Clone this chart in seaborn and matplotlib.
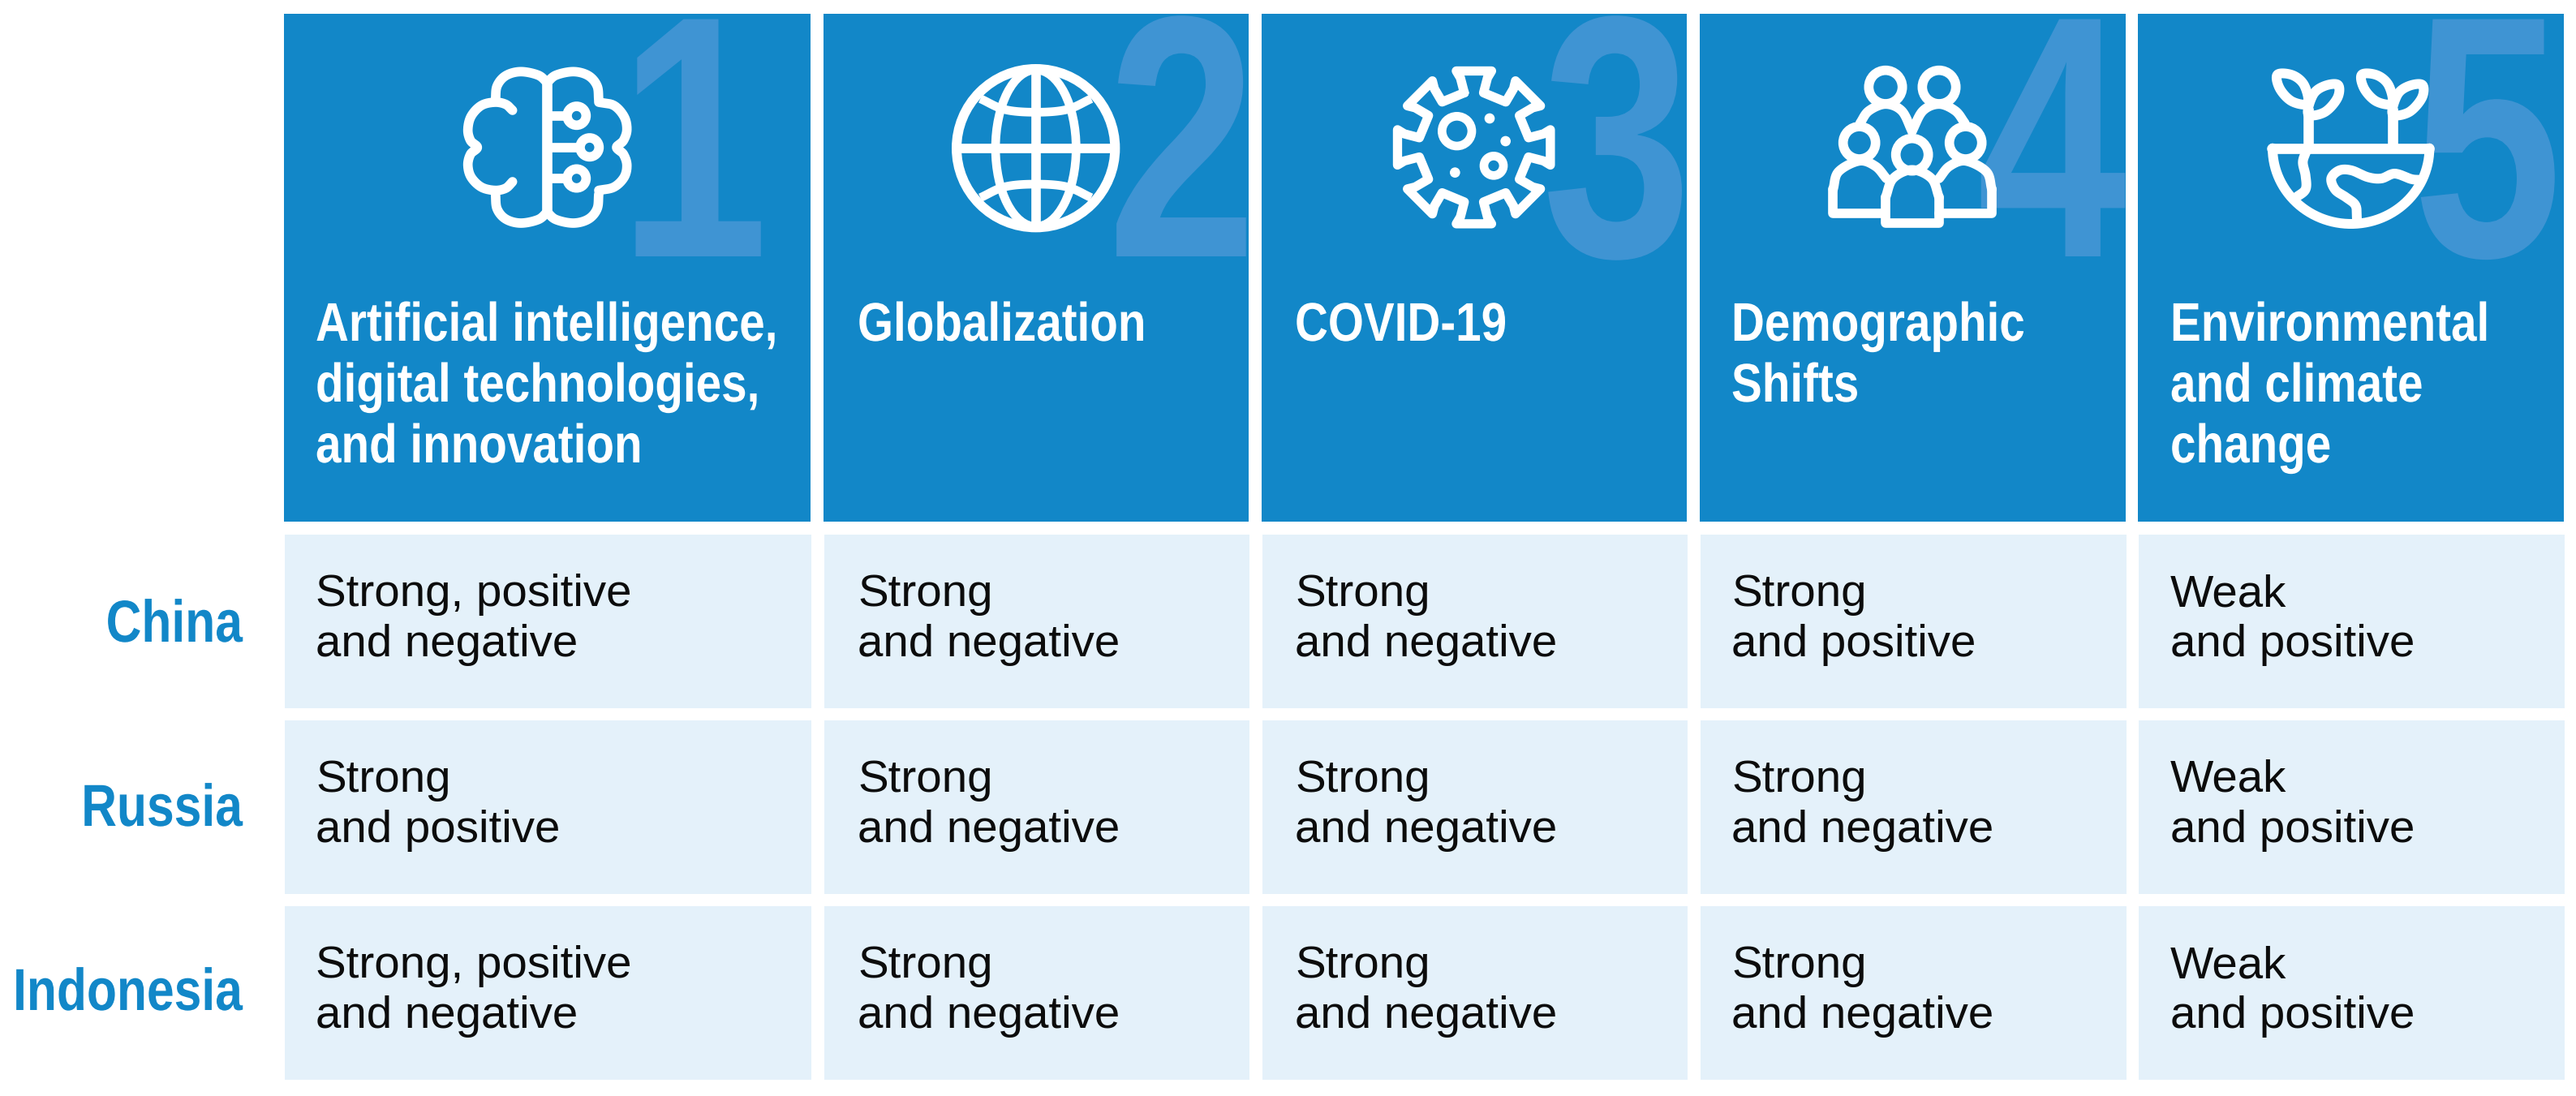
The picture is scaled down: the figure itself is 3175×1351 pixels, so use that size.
import numpy as np
import pandas as pd
import seaborn as sns
import matplotlib
matplotlib.use("Agg")
import matplotlib.pyplot as plt
from matplotlib.colors import ListedColormap
from matplotlib.patches import Circle, Ellipse
from matplotlib.patheffects import AbstractPathEffect
from matplotlib.transforms import Affine2D, Bbox

# ---------- data ----------
countries = ["China", "Russia", "Indonesia"]
drivers = [
    "Artificial intelligence,\ndigital technologies,\nand innovation",
    "Globalization",
    "COVID-19",
    "Demographic\nShifts",
    "Environmental\nand climate\nchange",
]
numbers = ["1", "2", "3", "4", "5"]
effect_ai = ["Strong, positive\nand negative", "Strong\nand positive", "Strong, positive\nand negative"]
effect_glob = ["Strong\nand negative", "Strong\nand negative", "Strong\nand negative"]
effect_covid = ["Strong\nand negative", "Strong\nand negative", "Strong\nand negative"]
effect_demo = ["Strong\nand positive", "Strong\nand negative", "Strong\nand negative"]
effect_env = ["Weak\nand positive", "Weak\nand positive", "Weak\nand positive"]
effects = [effect_ai, effect_glob, effect_covid, effect_demo, effect_env]

# ---------- layout (pixels) ----------
W, H = 3175, 1351
DPI = 100
col_l = [350, 1015, 1555, 2095, 2635]
col_r = [999, 1539, 2079, 2620, 3160]
head_t, head_b = 17, 643
body_t, body_b = 659, 1330
gap = 15
text_x = [389, 1057, 1596, 2134, 2675]
head_base = 420
head_step = 75
body_base = [747, 976, 1205]
body_step = 62
row_base = [791, 1018, 1245]
row_right = 299
num_right = [947, 1549, 2085, 2621, 3158]
num_base = 316
icon_org = [(560, 70), (1165, 70), (1705, 70), (2240, 70), (2785, 70)]
SQ_HEAD = 0.845
SQ_ROW = 0.83
SQ_NUM = 0.78

BLUE = "#1287C8"
LIGHT = "#E4F1FA"
NUM = "#3F94D3"
LABEL = "#1287C8"
INK = "#0C0C0C"

sns.set_theme(style="white")
plt.rcParams["font.family"] = ["Liberation Sans", "DejaVu Sans"]

fig = plt.figure(figsize=(W / DPI, H / DPI), dpi=DPI, facecolor="white")


def frac_axes(l, t, r, b):
    return fig.add_axes([l / W, 1 - b / H, (r - l) / W, (b - t) / H])


# ---------- table cells through seaborn ----------
for i in range(len(drivers)):
    ax = frac_axes(col_l[i], head_t, col_r[i], head_b)
    sns.heatmap(pd.DataFrame([[1]], index=[numbers[i]], columns=[drivers[i]]), ax=ax, cbar=False,
                cmap=ListedColormap([BLUE]), vmin=0, vmax=1, xticklabels=False, yticklabels=False)
    ax.set_xlabel(""); ax.set_ylabel("")

    df = pd.DataFrame({drivers[i]: effects[i]}, index=countries)
    ax = frac_axes(col_l[i] - gap / 2, body_t - gap / 2, col_r[i] + gap / 2, body_b + gap / 2)
    sns.heatmap(df.notna().astype(int), ax=ax, cbar=False, cmap=ListedColormap([LIGHT]), vmin=0, vmax=1,
                linewidths=gap * 72 / DPI, linecolor="white", xticklabels=False, yticklabels=False)
    ax.set_xlabel(""); ax.set_ylabel("")

# ---------- overlay in pixel coordinates ----------
ov = fig.add_axes([0, 0, 1, 1], zorder=5)
ov.set_xlim(0, W); ov.set_ylim(H, 0); ov.axis("off"); ov.patch.set_alpha(0)

px = 72 / DPI


class Squeeze(AbstractPathEffect):
    """Draw a text narrower about its anchor, as a condensed face would look."""

    def __init__(self, anchor_x, sx):
        super().__init__()
        self.anchor_x, self.sx = anchor_x, sx

    def draw_path(self, renderer, gc, tpath, affine, rgbFace=None):
        tr = affine + Affine2D().translate(-self.anchor_x, 0).scale(self.sx, 1).translate(self.anchor_x, 0)
        renderer.draw_path(gc, tpath, tr, rgbFace)


def condensed(t, anchor, sx):
    t.set_path_effects([Squeeze(anchor, sx)])
    orig = t.get_window_extent

    def extent(renderer=None, dpi=None):
        b = orig(renderer, dpi)
        return Bbox.from_extents(anchor + (b.x0 - anchor) * sx, b.y0, anchor + (b.x1 - anchor) * sx, b.y1)

    t.get_window_extent = extent
    return t


def spline(pts, closed=False, n=14):
    p = np.asarray(pts, float)
    if closed:
        q = np.vstack([p[-1], p, p[0], p[1]])
    else:
        q = np.vstack([2 * p[0] - p[1], p, 2 * p[-1] - p[-2]])
    out = []
    for k in range(1, len(q) - 2):
        t = np.linspace(0, 1, n, endpoint=False)[:, None]
        a, b, c, d = q[k - 1], q[k], q[k + 1], q[k + 2]
        out.append(0.5 * (2 * b + (c - a) * t + (2 * a - 5 * b + 4 * c - d) * t ** 2 + (3 * b - a - 3 * c + d) * t ** 3))
    out.append(q[-2][None])
    return np.vstack(out)


class Icon:
    def __init__(self, org):
        self.org = np.array(org, float)

    def xy(self, pts):
        return self.org + np.asarray(pts, float) / 3

    def line(self, pts, w=35, curve=False, closed=False, cap="round"):
        p = spline(pts, closed) if curve else np.asarray(pts, float)
        p = self.xy(p)
        if closed and not curve:
            p = np.vstack([p, p[0]])
        ov.plot(p[:, 0], p[:, 1], color="white", lw=w / 3 * px, solid_capstyle=cap,
                solid_joinstyle="round", zorder=6)

    def ring(self, c, r, w=35):
        x, y = self.xy(c)
        ov.add_patch(Circle((x, y), r / 3, fc="none", ec="white", lw=w / 3 * px, zorder=6))

    def dot(self, c, r):
        x, y = self.xy(c)
        ov.add_patch(Circle((x, y), r / 3, fc="white", ec="none", zorder=6))


def brain(ic):
    ic.line([(343, 90), (343, 590)], w=38, cap="butt")
    ic.line([(343, 95), (310, 68), (245, 55), (190, 70), (158, 108), (152, 160)], curve=True)
    ic.line([(343, 95), (376, 68), (441, 55), (496, 70), (528, 108), (534, 160)], curve=True)
    ic.line([(343, 575), (310, 602), (245, 615), (190, 600), (158, 562), (152, 508)], curve=True)
    ic.line([(343, 575), (376, 602), (441, 615), (496, 600), (528, 562), (534, 508)], curve=True)
    ic.line([(215, 198), (190, 176), (150, 168), (100, 180), (62, 220), (50, 270), (60, 310), (85, 335),
             (60, 360), (50, 400), (62, 445), (100, 482), (150, 494), (190, 486), (215, 462)], curve=True)
    ic.line([(534, 168), (590, 180), (628, 222), (638, 270), (625, 310), (600, 335),
             (625, 360), (638, 400), (628, 445), (590, 482), (534, 494)], curve=True)
    for c, end in [((452, 218), 420), ((500, 335), 465), ((452, 450), 420)]:
        ic.ring(c, 35)
        ic.line([(343, c[1]), (end, c[1])], cap="butt")


def globe(ic):
    ic.ring((335, 338), 293, 36)
    ic.line([(45, 338), (625, 338)], cap="butt")
    ic.line([(335, 50), (335, 625)], cap="butt")
    x, y = ic.xy((335, 338))
    ov.add_patch(Ellipse((x, y), 2 * 149 / 3, 2 * 290 / 3, fc="none", ec="white", lw=32 / 3 * px, zorder=6))
    ic.line([(130, 155), (220, 195), (335, 205), (450, 195), (540, 155)], w=32, curve=True, cap="butt")
    ic.line([(130, 521), (220, 481), (335, 471), (450, 481), (540, 521)], w=32, curve=True, cap="butt")


def virus(ic):
    pts = []
    for k in range(8):
        a = np.deg2rad(45 * k)
        for da, r in [(-10, 205), (-11, 262), (-13, 290), (13, 290), (11, 262), (10, 205)]:
            b = a + np.deg2rad(da)
            pts.append((335 + r * np.sin(b), 335 - r * np.cos(b)))
    ic.line(pts, closed=True, w=34)
    ic.ring((272, 275), 55, 32)
    ic.ring((408, 403), 36, 32)
    ic.dot((393, 228), 19)
    ic.dot((452, 312), 19)
    ic.dot((265, 428), 19)


def people(ic):
    ic.ring((252, 112), 62)
    ic.ring((450, 112), 62)
    ic.line([(158, 245), (190, 200), (252, 175), (312, 200), (350, 275)], curve=True)
    ic.line([(350, 275), (390, 200), (450, 175), (510, 200), (545, 245)], curve=True)
    ic.ring((155, 318), 60)
    ic.ring((548, 318), 60)
    ic.ring((350, 362), 60)
    ic.line([(250, 580), (58, 580), (58, 490)])
    ic.line([(58, 490), (78, 425), (155, 385), (215, 405), (255, 450)], curve=True)
    ic.line([(450, 580), (645, 580), (645, 490)])
    ic.line([(645, 490), (625, 425), (548, 385), (488, 405), (450, 450)], curve=True)
    ic.line([(252, 520), (252, 615), (450, 615), (450, 520)])
    ic.line([(252, 520), (280, 450), (350, 418), (422, 450), (450, 520)], curve=True)


def plant(ic):
    for dx in (0, 312):
        ic.line([(180 + dx, 338), (180 + dx, 190)], w=38, cap="butt")
        ic.line([(178 + dx, 172), (120 + dx, 165), (75 + dx, 118), (66 + dx, 66), (122 + dx, 68), (165 + dx, 105)],
                curve=True, closed=True, w=36)
        ic.line([(180 + dx, 212), (240 + dx, 205), (288 + dx, 152), (290 + dx, 104), (240 + dx, 108), (198 + dx, 140)],
                curve=True, closed=True, w=36)
    ic.line([(45, 338), (628, 338)], w=38)
    t = np.linspace(0, np.pi, 60)
    ic.line(np.c_[338 + 290 * np.cos(t), 338 + 280 * np.sin(t)], w=36)
    ic.line([(172, 350), (160, 390), (170, 440), (170, 490), (135, 520)], curve=True, w=36)
    ic.line([(360, 600), (355, 550), (320, 520), (280, 492), (265, 450), (295, 420), (340, 420),
             (400, 445), (450, 450), (500, 432), (560, 452), (590, 455)], curve=True, w=36)


for f, org in zip([brain, globe, virus, people, plant], icon_org):
    f(Icon(org))

# ---------- text ----------
pt = 72 / DPI
for i in range(len(drivers)):
    condensed(ov.text(num_right[i], num_base, numbers[i], ha="right", va="baseline", color=NUM,
                      fontweight="bold", fontsize=425 * pt, zorder=5.5), num_right[i], SQ_NUM)
    for j, line in enumerate(drivers[i].split("\n")):
        condensed(ov.text(text_x[i], head_base + j * head_step, line, ha="left", va="baseline", color="white",
                          fontweight="bold", fontsize=67 * pt, zorder=7), text_x[i], SQ_HEAD)
    for r in range(len(countries)):
        for j, line in enumerate(effects[i][r].split("\n")):
            ov.text(text_x[i], body_base[r] + j * body_step, line, ha="left", va="baseline", color=INK,
                    fontsize=56.5 * pt, zorder=7)

for r, name in enumerate(countries):
    condensed(ov.text(row_right, row_base[r], name, ha="right", va="baseline", color=LABEL,
                      fontweight="bold", fontsize=73 * pt, zorder=7), row_right, SQ_ROW)

fig.savefig("out.png", dpi=DPI, facecolor="white")
